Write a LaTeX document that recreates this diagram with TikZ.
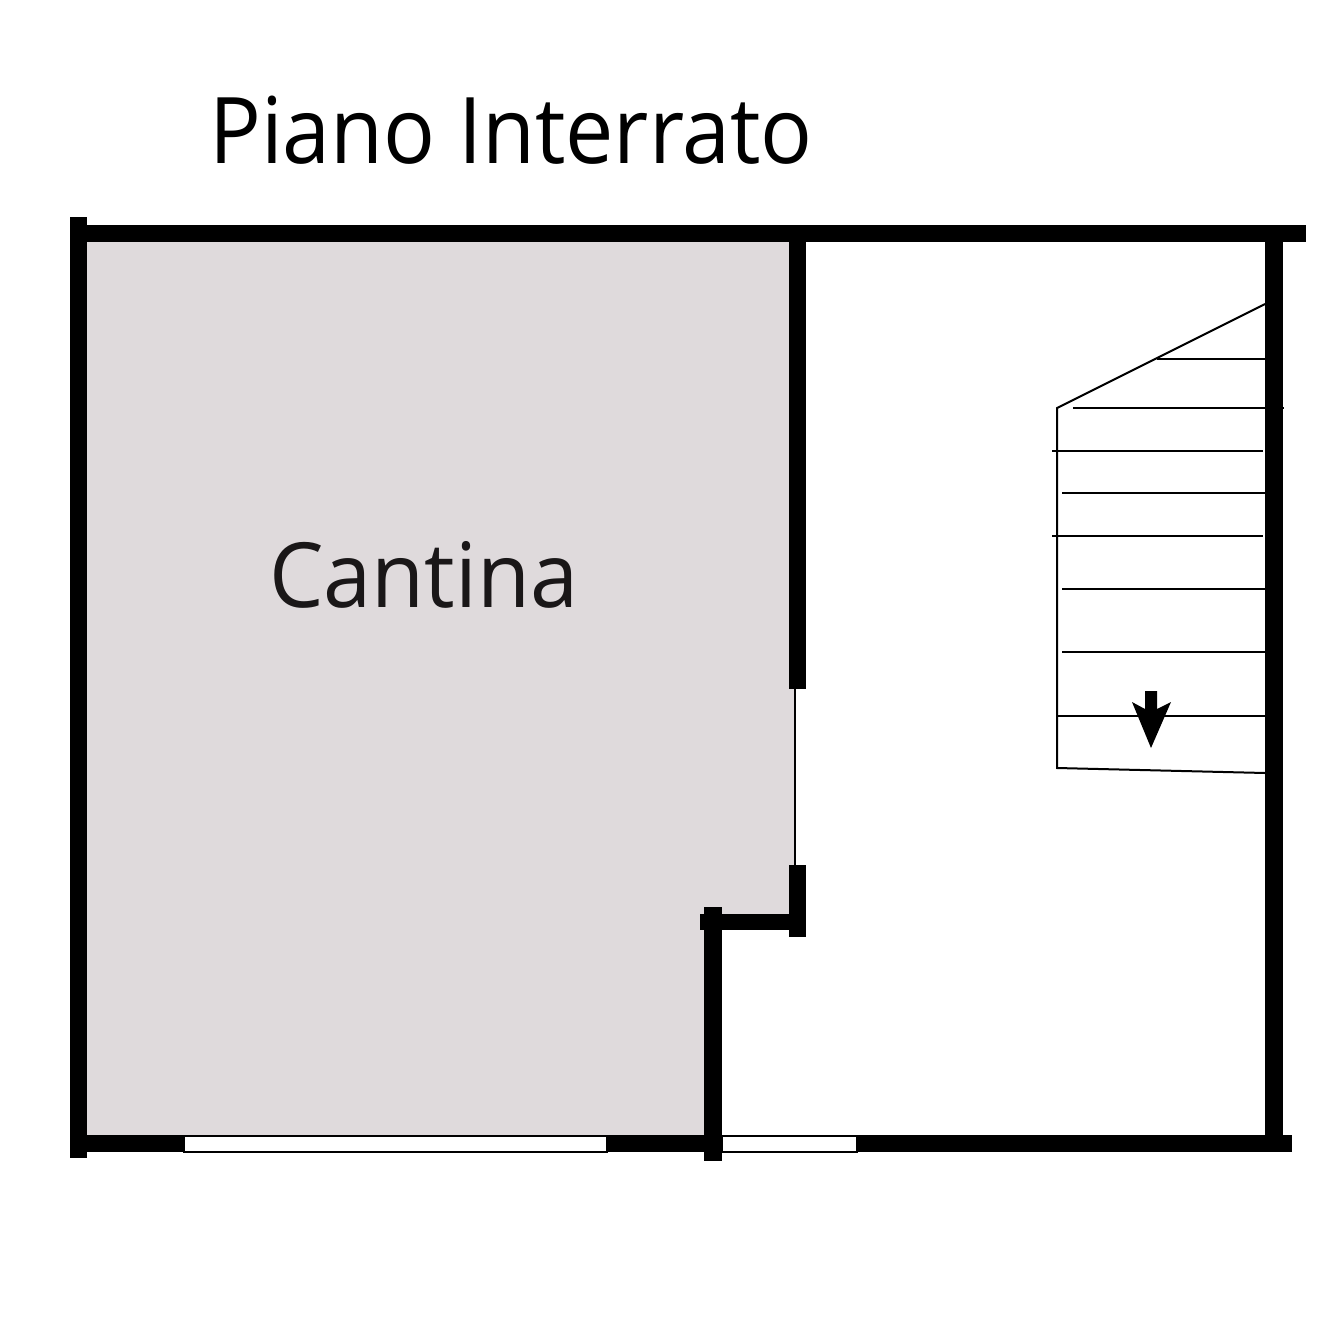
\documentclass[tikz,border=0pt]{standalone}
\usepackage{fontspec}
\setmainfont{Open Sans}
\newfontfamily\titlefont[FakeStretch=0.937]{Open Sans}
\newfontfamily\roomfont[FakeStretch=0.96]{Open Sans}
\definecolor{cellar}{HTML}{DFDADC}
\definecolor{inktext}{HTML}{1A1718}
\tikzset{
  wall/.style={fill=black,draw=none},
  window/.style={fill=white,draw=black,line width=2pt},
  tread/.style={draw=black,line width=2pt},
  roomtext/.style={anchor=base west,inner sep=0pt}
}

\begin{document}
\begin{tikzpicture}[x=1pt,y=-1pt]

  \useasboundingbox (0,0) rectangle (1323,1317);
  \fill [white] (0,0) rectangle (1323,1317);

  \node [roomtext,text=black,font=\titlefont\fontsize{92}{92}\selectfont] at(209,163) (title) {Piano Interrato};

  \fill [cellar] (87,242) -- (795,242) -- (795,914) -- (704,914) -- (704,1135) -- (87,1135) -- cycle;
  \node [roomtext,text=inktext,font=\roomfont\fontsize{90}{90}\selectfont] at(269,607) (cantina) {Cantina};

  % stairs
  \draw [tread] (1265,304) -- (1057,408) -- (1057,768) -- (1265,773);
  \foreach \ya/\xa/\xb in {359/1157/1265,408/1073/1284,451/1052/1263,493/1062/1265,535.5/1052/1263,588.5/1062/1265,652/1062/1265,715.5/1057/1265}{
    \draw [tread] (\xa,\ya) -- (\xb,\ya);
  }
  \fill [black] (1145,691) -- (1157,691) -- (1157,709) -- (1171,702) -- (1151,748) -- (1132,702) -- (1145,709) -- cycle;

  % windows first, walls over them
  \draw [window] (184,1135.5) rectangle (607,1151.5);
  \draw [window] (722,1135.5) rectangle (857,1151.5);
  \draw [black,line width=1.2pt] (795,689) -- (795,865);

  \foreach \xa/\ya/\xb/\yb in {70/217/87/1158,87/225/1306/242,789/242/806/689,789/865/806/937,700/914/789/930,704/907/722/1161,1265/242/1283/1135,87/1135/184/1152,607/1135/722/1152,857/1135/1292/1152}{
    \fill [wall] (\xa,\ya) rectangle (\xb,\yb);
  }
\end{tikzpicture}
\end{document}
